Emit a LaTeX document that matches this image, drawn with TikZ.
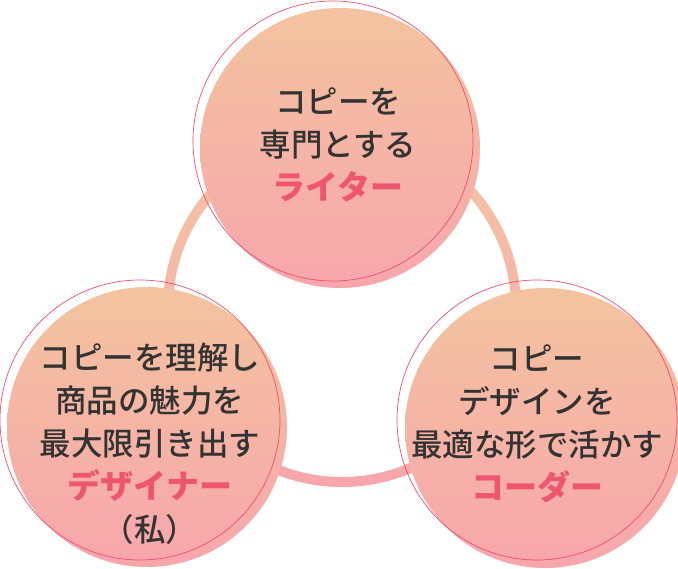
\documentclass[tikz,border=0pt]{standalone}
\usepackage{fontspec}
\setmainfont{Noto Sans CJK JP}[UprightFont=* Medium]
\usetikzlibrary{calc}
\definecolor{peach}{HTML}{F3C39F}
\definecolor{blush}{HTML}{F7A6AC}
\definecolor{rimred}{HTML}{E8506A}
\definecolor{rolered}{HTML}{EE5670}
\definecolor{ink}{HTML}{333333}
\tikzset{
  bubble/.style={circle, minimum size=280pt, inner sep=0pt, top color=peach, bottom color=blush},
  rim/.style={draw=rimred, line width=0.7pt},
  caption/.style={align=center, text=ink, font=\fontsize{31.5}{43}\selectfont}
}
\newcommand{\rolename}[1]{\textcolor{rolered}{\fontsize{33}{43}\selectfont\bfseries #1}}
\begin{document}
\begin{tikzpicture}[x=1pt, y=-1pt]
  \useasboundingbox (0,0) rectangle (678,569);
  \coordinate (hub) at (342,308);
  \shade[top color=peach!95!white, bottom color=blush, even odd rule]
    (hub) circle[radius=179] (hub) circle[radius=169];
  \node[bubble] (writer) at (340,148) {};
  \node[bubble] (designer) at (147,427) {};
  \node[bubble] (coder) at (545,428) {};
  \draw[rim] ($(writer.center)+(-7,-7)$) circle[radius=140];
  \draw[rim] ($(designer.center)+(-7,-7)$) circle[radius=140];
  \draw[rim] ($(coder.center)+(-8,-8)$) circle[radius=140];
  \node[caption] (writertext) at (338,145)
    {コピーを\\専門とする\\\rolename{ライター}};
  \node[caption] (designertext) at (150,444)
    {コピーを理解し\\商品の魅力を\\最大限引き出す\\\rolename{デザイナー}\\（私）};
  \node[caption] (codertext) at (537,424)
    {コピー\\デザインを\\最適な形で活かす\\\rolename{コーダー}};
\end{tikzpicture}
\end{document}
